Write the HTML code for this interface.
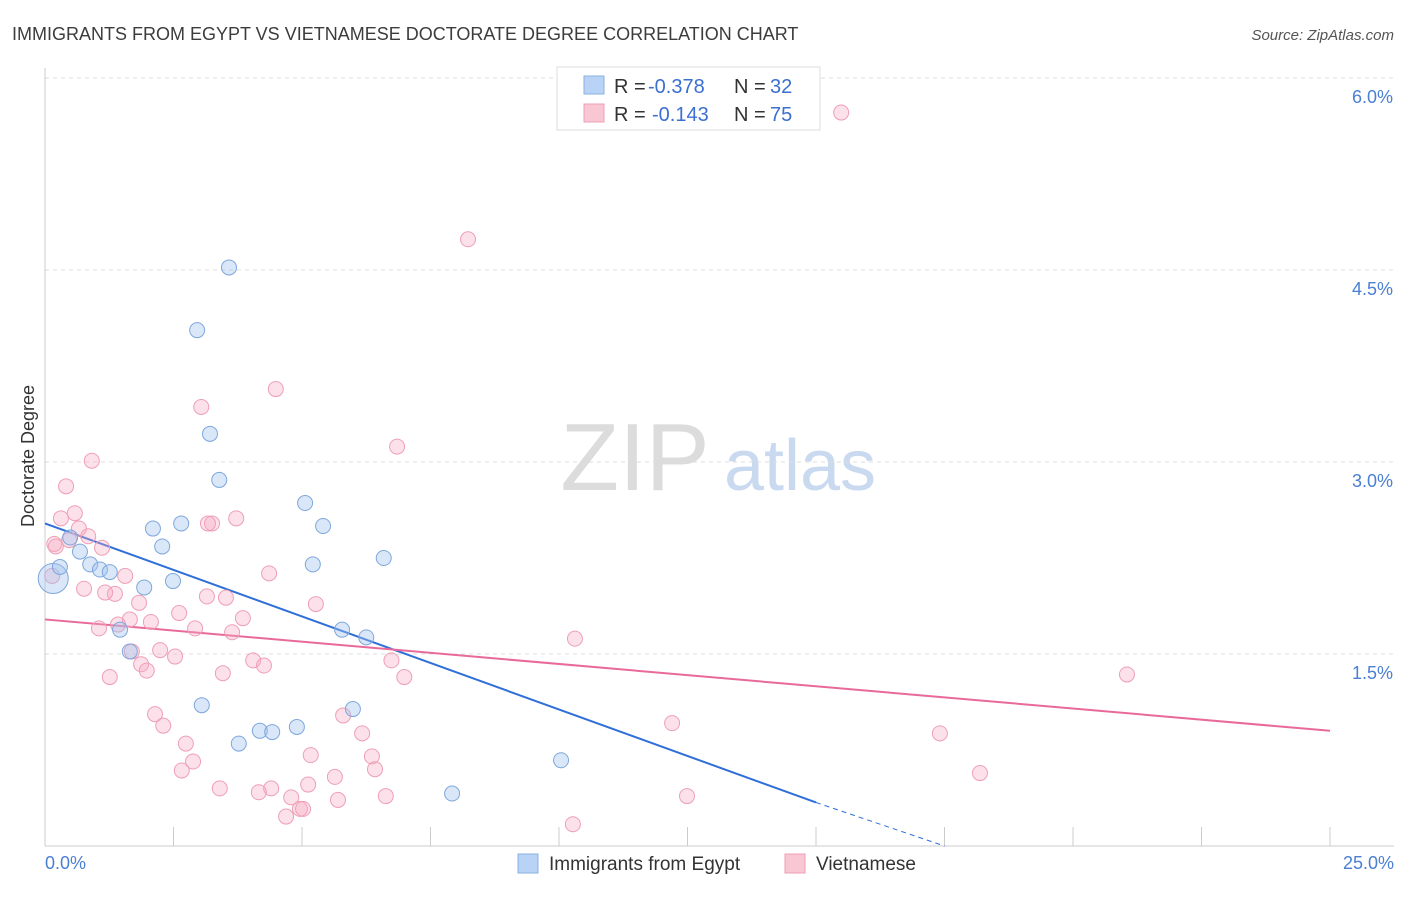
<!DOCTYPE html>
<html><head><meta charset="utf-8"><style>
body{margin:0;background:#fff;font-family:"Liberation Sans",sans-serif;}
svg text{font-family:"Liberation Sans",sans-serif;}
</style></head><body>
<svg id="chart" width="1406" height="892" xmlns="http://www.w3.org/2000/svg">
<text x="12" y="40" font-size="18" fill="#3c3c3c">IMMIGRANTS FROM EGYPT VS VIETNAMESE DOCTORATE DEGREE CORRELATION CHART</text>
<text x="1394" y="40" font-size="15" fill="#555" text-anchor="end" font-style="italic">Source: ZipAtlas.com</text>
<g>
<text x="635" y="490" font-size="96" fill="#dcdcdc" text-anchor="middle" font-family="Liberation Serif">ZIP</text>
<text x="800" y="490" font-size="72" fill="#c9d9ef" text-anchor="middle">atlas</text>
</g>
<g id="grid"></g>
<g id="axes"></g>
<text transform="translate(34,456) rotate(-90)" font-size="18" fill="#333" text-anchor="middle">Doctorate Degree</text>
<g id="trends"></g>
<g id="points"></g>
<g>
<rect x="557" y="67" width="263" height="63" fill="#fff" stroke="#ddd"/>
<rect x="584" y="76" width="20" height="18" fill="#b8d3f5" stroke="#8ab0e0"/>
<rect x="584" y="104" width="20" height="18" fill="#f9c6d4" stroke="#ee9fb6"/>
<text x="614" y="93" font-size="20" fill="#333">R =</text>
<text x="648" y="93" font-size="20" fill="#3b6fd1">-0.378</text>
<text x="734" y="93" font-size="20" fill="#333">N =</text>
<text x="770" y="93" font-size="20" fill="#3b6fd1">32</text>
<text x="614" y="121" font-size="20" fill="#333">R =</text>
<text x="652" y="121" font-size="20" fill="#3b6fd1">-0.143</text>
<text x="734" y="121" font-size="20" fill="#333">N =</text>
<text x="770" y="121" font-size="20" fill="#3b6fd1">75</text>
</g>
<g>
<rect x="518" y="854" width="20" height="19" fill="#b8d3f5" stroke="#8ab0e0"/>
<text x="549" y="870" font-size="19" fill="#333">Immigrants from Egypt</text>
<rect x="785" y="854" width="20" height="19" fill="#f9c6d4" stroke="#ee9fb6"/>
<text x="816" y="870" font-size="19" fill="#333">Vietnamese</text>
</g>
</svg>
<script>
const yTicks=[1.5,3.0,4.5,6.0];
const yTickLabels=["1.5%","3.0%","4.5%","6.0%"];
const xTickCount=10;
const egyptX=[3.58,2.96,3.21,3.39,5.06,2.65,2.10,5.41,0.49,2.28,0.68,6.59,5.21,0.88,1.07,1.26,0.16,2.49,1.93,1.46,5.78,6.25,1.65,3.05,5.99,4.90,4.18,4.42,3.77,10.04,7.92,0.29];
const egyptY=[4.52,4.03,3.22,2.86,2.68,2.52,2.48,2.50,2.41,2.34,2.30,2.25,2.20,2.20,2.16,2.14,2.09,2.07,2.02,1.69,1.69,1.63,1.52,1.10,1.07,0.93,0.90,0.89,0.80,0.67,0.41,2.18];
const vietX=[15.49,8.23,4.49,3.04,6.85,0.91,0.41,0.58,0.31,3.72,3.25,3.17,0.66,0.84,0.47,0.18,0.21,1.11,4.36,1.56,0.14,0.76,1.36,1.17,3.52,3.15,5.27,1.83,2.61,3.85,2.06,1.65,1.42,1.05,2.92,3.64,10.31,2.24,1.69,2.53,4.05,6.74,1.87,4.26,1.98,3.46,1.26,6.99,21.05,2.14,5.80,2.30,12.20,6.17,17.41,2.74,5.17,6.36,2.88,2.66,6.42,5.64,18.19,3.40,4.40,5.12,4.16,4.79,6.63,5.70,12.49,4.96,5.02,4.69,10.27];
const vietY=[5.73,4.74,3.57,3.43,3.12,3.01,2.81,2.60,2.56,2.56,2.52,2.52,2.48,2.42,2.39,2.36,2.34,2.33,2.13,2.11,2.11,2.01,1.97,1.98,1.94,1.95,1.89,1.90,1.82,1.78,1.75,1.77,1.73,1.70,1.70,1.67,1.62,1.53,1.52,1.48,1.45,1.45,1.42,1.41,1.37,1.35,1.32,1.32,1.34,1.03,1.02,0.94,0.96,0.88,0.88,0.80,0.71,0.70,0.66,0.59,0.60,0.54,0.57,0.45,0.45,0.48,0.42,0.38,0.39,0.36,0.39,0.29,0.29,0.23,0.17];
const egyptTrend=[[0,2.52],[15,0.34]];
const egyptDash=[[15,0.34],[17.5,0]];
const vietTrend=[[0,1.77],[25,0.90]];
const NS="http://www.w3.org/2000/svg";
const X=v=>45+v*51.4, Y=v=>846-v*128;
function mk(t,a,p){const e=document.createElementNS(NS,t);for(const k in a)e.setAttribute(k,a[k]);p.appendChild(e);return e;}
const grid=document.getElementById('grid'),axes=document.getElementById('axes');
yTicks.forEach((t,i)=>{
 const l=mk('line',{x1:45,x2:1394,y1:Y(t),y2:Y(t),stroke:'#ddd','stroke-dasharray':'4,4'},grid);
 
 const tx=mk('text',{x:1393,y:Y(t)+25,'font-size':18,fill:'#4a7fd4','text-anchor':'end'},axes);tx.textContent=yTickLabels[i];
 
});
mk('line',{x1:45,x2:45,y1:68,y2:846,stroke:'#ccc'},axes);
mk('line',{x1:45,x2:1394,y1:846,y2:846,stroke:'#ccc'},axes);
for(let i=0;i<=xTickCount;i++){const t=mk('line',{x1:X(i*2.5),x2:X(i*2.5),y1:827,y2:846,stroke:'#ccc'},axes);}
let a=mk('text',{x:45,y:869,'font-size':18,fill:'#4a7fd4'},axes);a.textContent='0.0%';

a=mk('text',{x:1394,y:869,'font-size':18,fill:'#4a7fd4','text-anchor':'end'},axes);a.textContent='25.0%';

const pts=document.getElementById('points');
vietX.forEach((v,i)=>{const c=mk('circle',{cx:X(v),cy:Y(vietY[i]),r:7.5,fill:'rgba(246,170,195,0.35)',stroke:'#ee9fb6','stroke-width':1},pts);
 });
egyptX.forEach((v,i)=>{const c=mk('circle',{cx:X(v),cy:Y(egyptY[i]),r:i==16?15:7.5,fill:'rgba(160,195,240,0.4)',stroke:'#7ea7dc','stroke-width':1},pts);
 });
const tr=document.getElementById('trends');
let l=mk('line',{x1:X(egyptTrend[0][0]),y1:Y(egyptTrend[0][1]),x2:X(egyptTrend[1][0]),y2:Y(egyptTrend[1][1]),stroke:'#2f6fd8','stroke-width':2},tr);

l=mk('line',{x1:X(egyptDash[0][0]),y1:Y(egyptDash[0][1]),x2:X(egyptDash[1][0]),y2:Y(egyptDash[1][1]),stroke:'#2f6fd8','stroke-width':1,'stroke-dasharray':'5,4'},tr);

l=mk('line',{x1:X(vietTrend[0][0]),y1:Y(vietTrend[0][1]),x2:X(vietTrend[1][0]),y2:Y(vietTrend[1][1]),stroke:'#e8699a','stroke-width':2},tr);

</script>
</body></html>
